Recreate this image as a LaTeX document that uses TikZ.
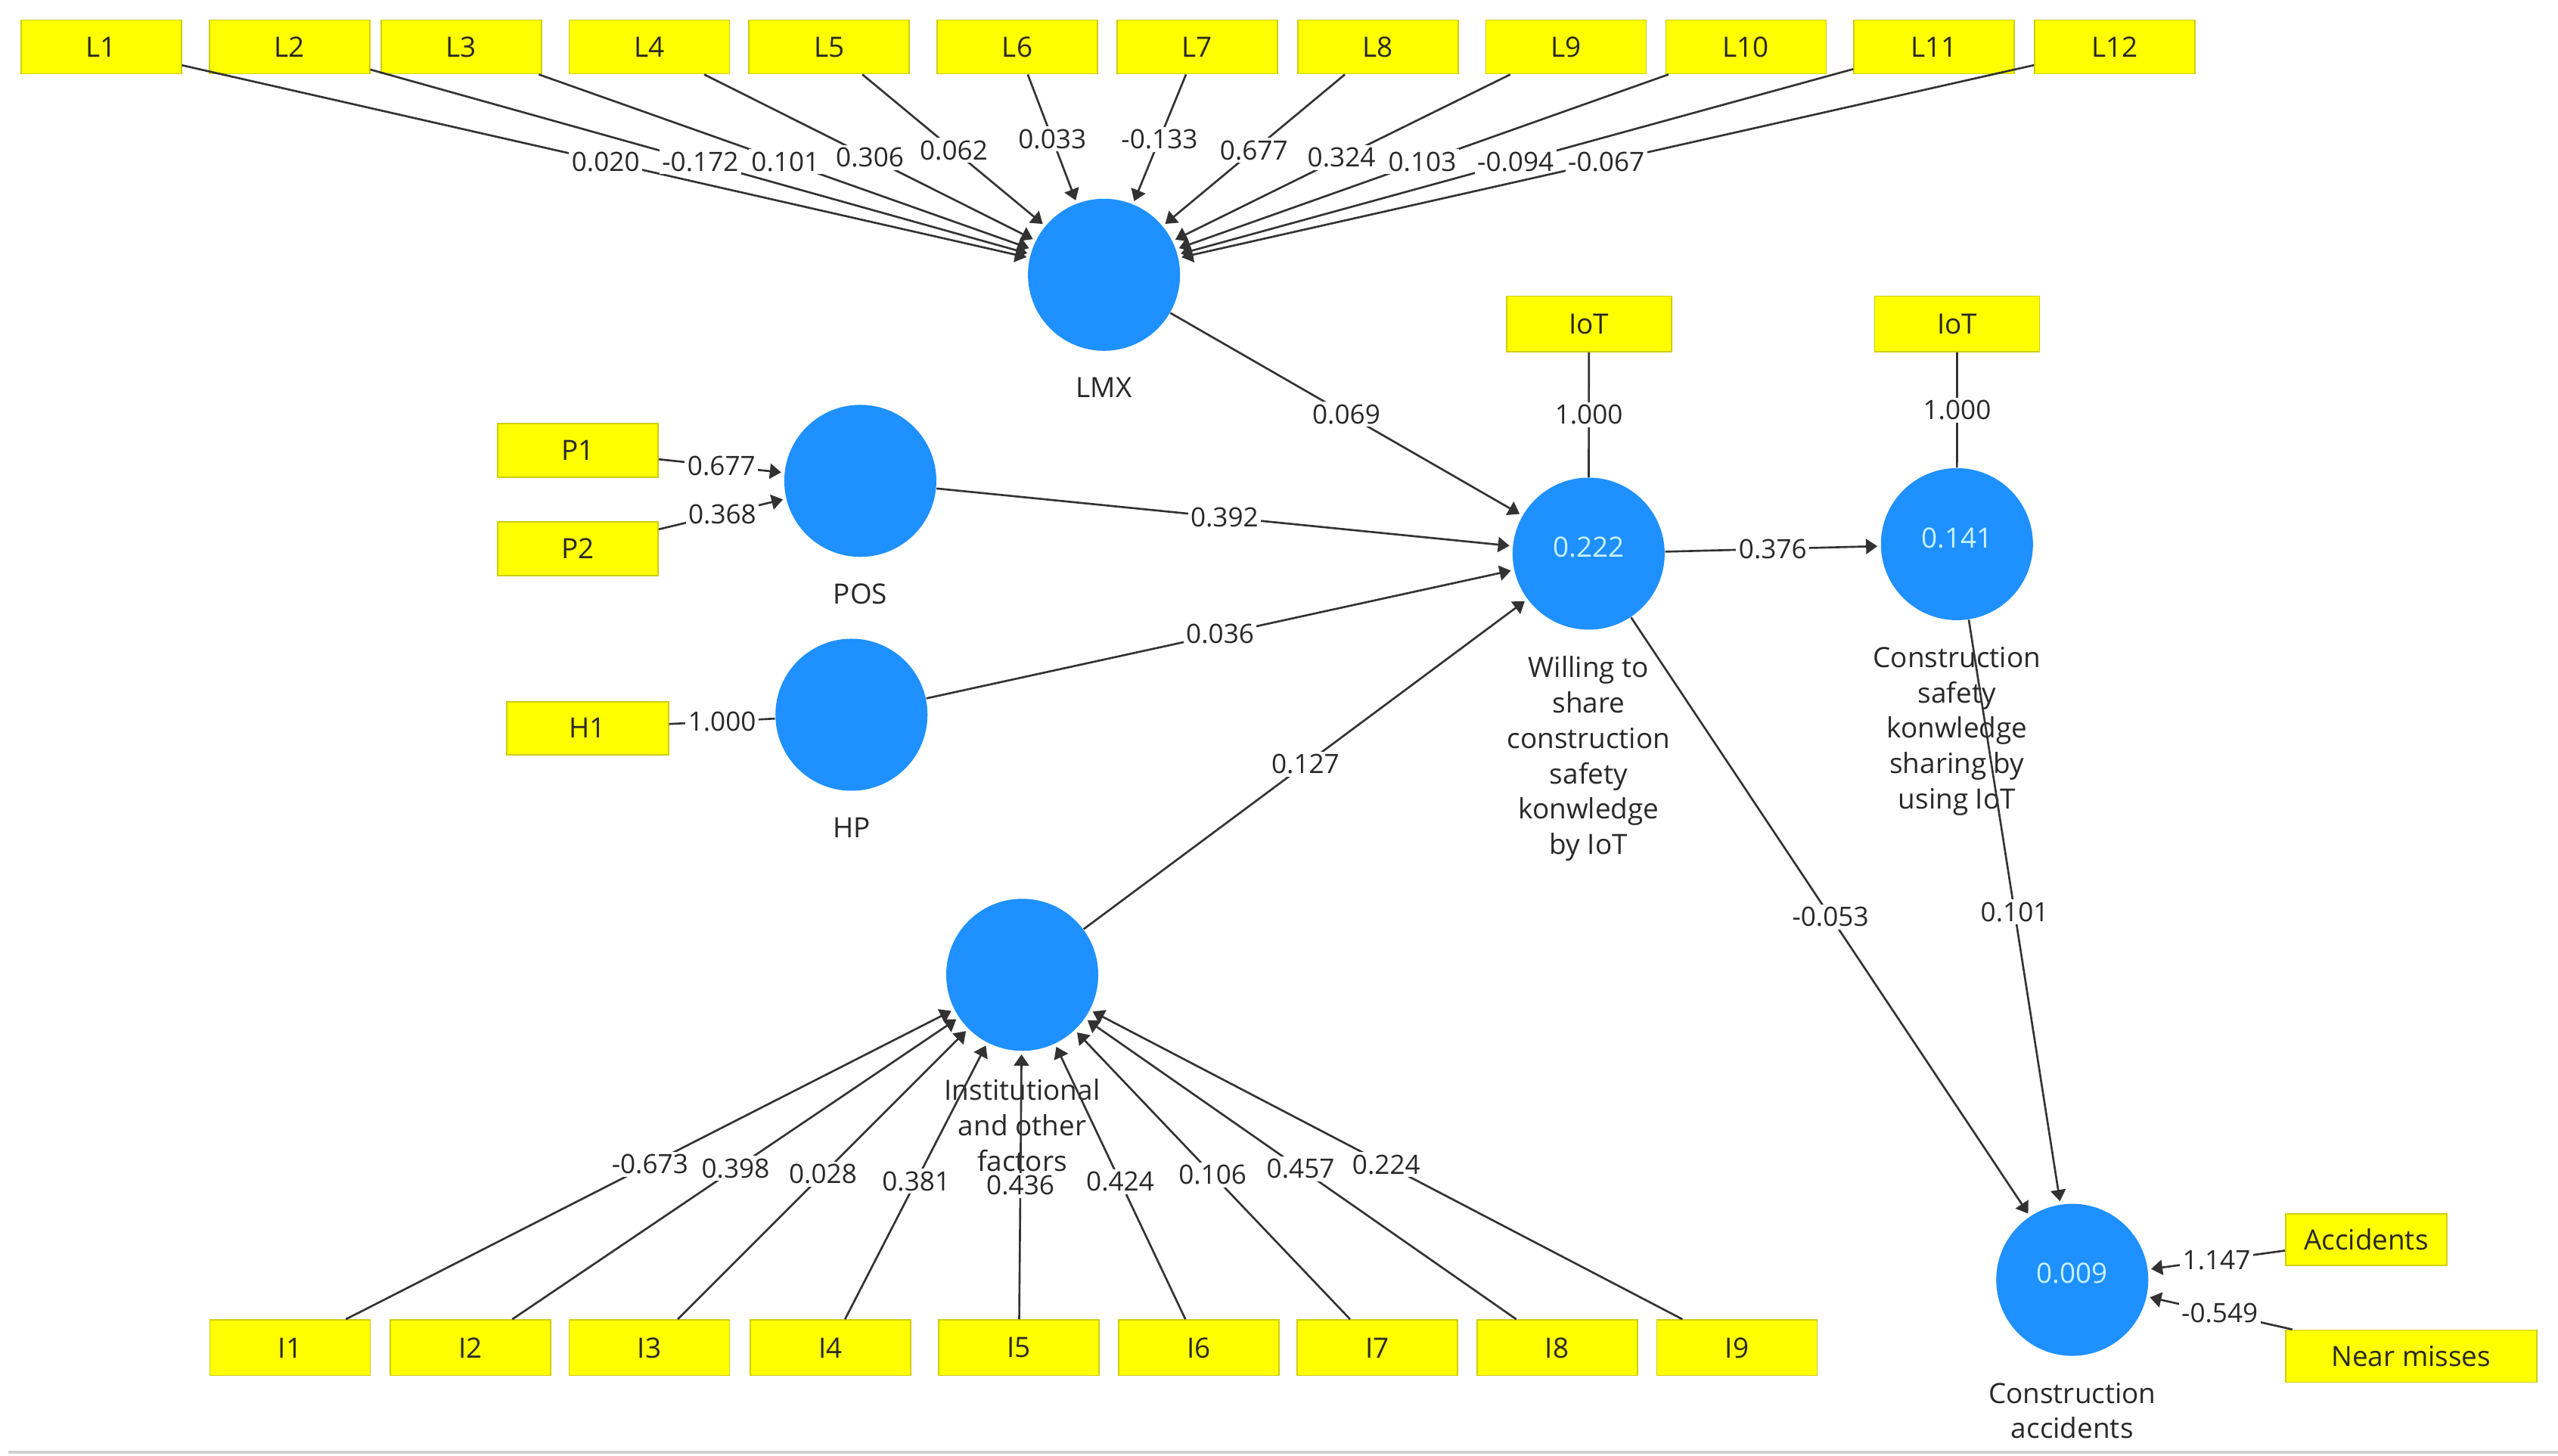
\documentclass[tikz,border=0pt]{standalone}
\usepackage{fontspec}
\setmainfont{Open Sans}
\usetikzlibrary{arrows.meta,calc}
\definecolor{boxfill}{RGB}{255,255,0}
\definecolor{boxline}{RGB}{205,205,20}
\definecolor{latfill}{RGB}{30,144,255}
\definecolor{lattext}{RGB}{200,242,255}
\definecolor{ink}{RGB}{40,40,40}
\definecolor{edge}{RGB}{50,50,50}
\begin{document}
\begin{tikzpicture}[x=0.021624cm,y=-0.021624cm,
  ind/.style={draw=boxline,line width=0.5pt,fill=boxfill,minimum width=2.12cm,minimum height=0.71cm,inner sep=0pt,text=ink,font=\fontsize{10.5}{12}\selectfont},
  lat/.style={circle,fill=latfill,minimum size=2.01cm,inner sep=0pt},
  valtxt/.style={inner sep=0pt,text=lattext,font=\fontsize{10.5}{12}\selectfont},
  captxt/.style={anchor=north,align=center,inner sep=0pt,text=ink,font=\fontsize{10.5}{13.3}\selectfont},
  num/.style={fill=white,inner sep=1pt,text=ink,font=\fontsize{10}{12}\selectfont},
  lnk/.style={draw=edge,line width=0.75pt},
  arr/.style={lnk,-{Triangle[length=0.15cm,width=0.2cm]},shorten >=0.04cm}]
\useasboundingbox (0,0) rectangle (1564,889.8);
\fill[white] (0,0) rectangle (1564,889.8);
\draw[gray!35,line width=1pt] (5,888) -- (1564,888);
% latent variables
\node[lat] (lmx)  at (675,168)     {};
\node[lat] (pos)  at (526,294)     {};
\node[lat] (hp)   at (520.6,437)   {};
\node[lat] (inst) at (625,596)     {};
\node[lat] (will) at (971.3,338.5) {};
\node[lat] (csks) at (1196.5,332.7){};
\node[lat] (ca)   at (1267,782.5)  {};
\node[valtxt] (willv) at ($(will)+(0,-4)$) {0.222};
\node[valtxt] (csksv) at ($(csks)+(0,-3.5)$) {0.141};
\node[valtxt] (cav)   at ($(ca)+(0,-4)$)   {0.009};
% captions
\node[captxt] (lmxc)  at ($(lmx)+(0,62.5)$)  {LMX};
\node[captxt] (posc)  at ($(pos)+(0,62.5)$)  {POS};
\node[captxt] (hpc)   at ($(hp)+(0,62.5)$)   {HP};
\node[captxt] (instc) at ($(inst)+(0,63.5)$) {Institutional\\and other\\factors};
\node[captxt] (willc) at ($(will)+(0,62.5)$) {Willing to\\share\\construction\\safety\\konwledge\\by IoT};
\node[captxt] (csksc) at ($(csks)+(0,62.5)$) {Construction\\safety\\konwledge\\sharing by\\using IoT};
\node[captxt] (cac)   at ($(ca)+(0,62.5)$)   {Construction\\accidents};
% indicators
\foreach \n/\x in {1/61.8,2/177,3/282,4/397,5/507,6/622,7/732,8/842.5,9/957.5,10/1067.5,11/1182.5,12/1293}
  \node[ind] (L\n) at (\x,28.7) {L\n};
\foreach \n/\x in {1/177.3,2/287.5,3/397,4/507.7,5/623,6/733,7/842,8/952,9/1062}
  \node[ind,minimum height=0.735cm] (I\n) at (\x,824) {I\n};
\node[ind,minimum width=2.18cm,minimum height=0.735cm] (iot1) at (971.5,198) {IoT};
\node[ind,minimum width=2.18cm,minimum height=0.735cm] (iot2) at (1196.6,198) {IoT};
\node[ind] (P1) at (353.3,275.5) {P1};
\node[ind] (P2) at (353.3,335.5) {P2};
\node[ind,minimum width=2.14cm,minimum height=0.70cm] (H1) at (359.2,445.2) {H1};
\node[ind,minimum width=2.13cm,minimum height=0.68cm] (acc) at (1446.7,757.8) {Accidents};
\node[ind,minimum width=3.32cm,minimum height=0.69cm] (nm) at (1474.2,829.2) {Near misses};
% outer weights
\foreach \n/\v in {1/0.020,2/-0.172,3/0.101,4/0.306,5/0.062,6/0.033,7/-0.133,8/0.677,9/0.324,10/0.103,11/-0.094,12/-0.067}
  \draw[arr] (L\n) -- node[num] (wL\n) {\v} (lmx);
\foreach \n/\v in {1/-0.673,2/0.398,3/0.028,4/0.381,5/0.436,6/0.424,7/0.106,8/0.457,9/0.224}
  \draw[arr] (I\n) -- node[num] (wI\n) {\v} (inst);
\draw[arr] (P1) -- node[num] (wP1) {0.677} (pos);
\draw[arr] (P2) -- node[num] (wP2) {0.368} (pos);
\draw[lnk] (H1) -- node[num] (wH1) {1.000} (hp);
\draw[lnk] (iot1) -- node[num] (wiot1) {1.000} (will);
\draw[lnk] (iot2) -- node[num] (wiot2) {1.000} (csks);
\draw[arr] (acc) -- node[num] (wacc) {1.147} (ca);
\draw[arr] (nm) -- node[num] (wnm) {-0.549} (ca);
% inner model
\draw[arr] (lmx) -- node[num] (p1) {0.069} (will);
\draw[arr] (pos) -- node[num] (p2) {0.392} (will);
\draw[arr] (hp) -- node[num] (p3) {0.036} (will);
\draw[arr] (inst) -- node[num] (p4) {0.127} (will);
\draw[arr] (will) -- node[num] (p5) {0.376} (csks);
\draw[arr] (will) -- node[num] (p6) {-0.053} (ca);
\draw[arr] (csks) -- node[num] (p7) {0.101} (ca);
\end{tikzpicture}
\end{document}
